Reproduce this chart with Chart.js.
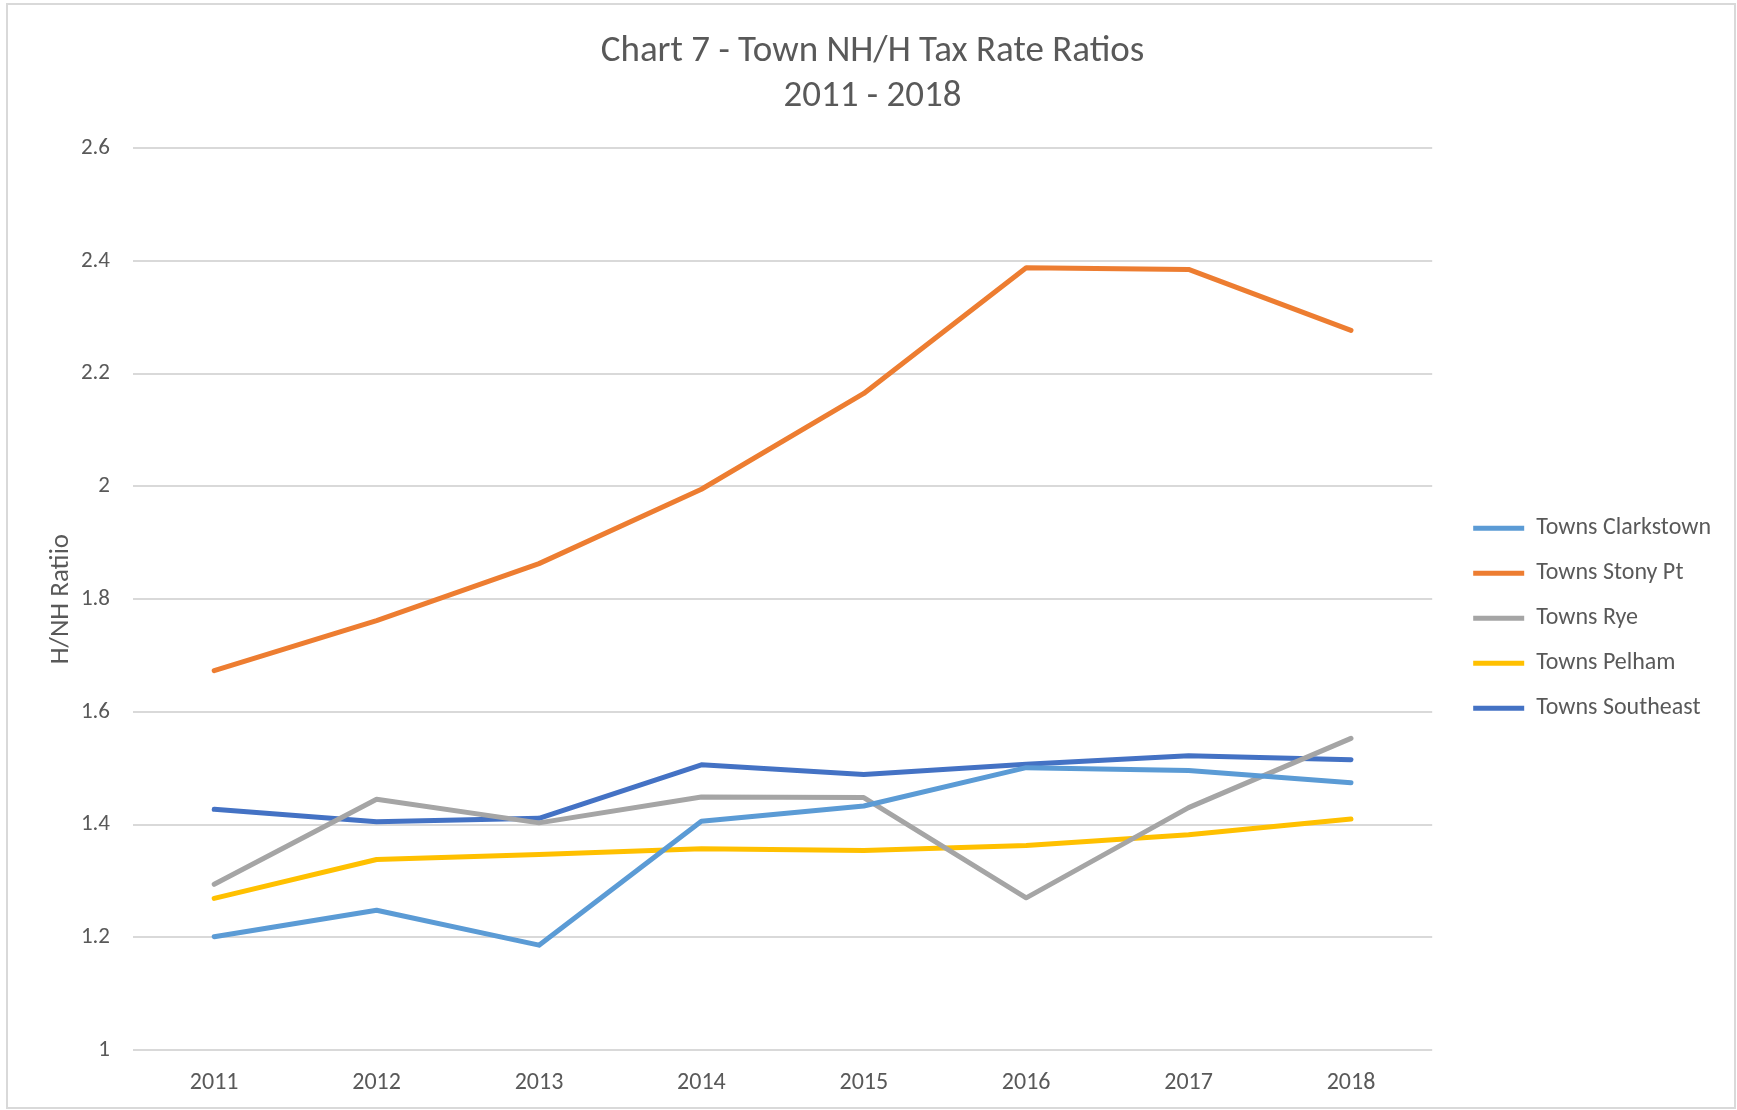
<!DOCTYPE html>
<html><head><meta charset="utf-8">
<script src="https://cdn.jsdelivr.net/npm/chart.js@4/dist/chart.umd.min.js"></script>
<style>html,body{margin:0;padding:0;background:#fff;overflow:hidden}#wrap{width:1737px;height:1110px;position:relative}</style>
</head><body><div id="wrap"><canvas id="c" width="1737" height="1110"></canvas></div>
<script>
const years = ['2011', '2012', '2013', '2014', '2015', '2016', '2017', '2018'];
const clarkstown = [1.201, 1.248, 1.186, 1.406, 1.433, 1.501, 1.496, 1.474];
const stonyPt    = [1.673, 1.762, 1.863, 1.995, 2.165, 2.388, 2.385, 2.277];
const rye        = [1.294, 1.445, 1.403, 1.449, 1.448, 1.270, 1.430, 1.553];
const pelham     = [1.269, 1.338, 1.347, 1.357, 1.354, 1.363, 1.382, 1.410];
const southeast  = [1.427, 1.405, 1.411, 1.506, 1.489, 1.507, 1.522, 1.515];
const seriesNames = ['Towns Clarkstown', 'Towns Stony Pt', 'Towns Rye', 'Towns Pelham', 'Towns Southeast'];
const seriesColors = ['#5B9BD5', '#ED7D31', '#A5A5A5', '#FFC000', '#4472C4'];
const titleLines = ['Chart 7 - Town NH/H Tax Rate Ratios', '2011 - 2018'];
const yAxisTitle = 'H/NH Ratiio';
const yMin = 1, yMax = 2.6, yStep = 0.2;

const seriesValues = [clarkstown, stonyPt, rye, pelham, southeast];
const FONT = "Carlito, Lato, 'Open Sans', sans-serif";
const TXT = '#595959';

const frame = {
  id: 'frame',
  beforeDraw(chart) {
    const ctx = chart.ctx;
    ctx.save();
    ctx.fillStyle = '#fff';
    ctx.fillRect(0, 0, chart.width, chart.height);
    ctx.strokeStyle = '#d9d9d9';
    ctx.lineWidth = 2;
    ctx.strokeRect(7, 4, chart.width - 9, chart.height - 6);
    ctx.restore();
  }
};

new Chart(document.getElementById('c'), {
  type: 'line',
  data: {
    labels: years,
    datasets: seriesNames.map((n, i) => ({
      label: n,
      data: seriesValues[i],
      borderColor: seriesColors[i],
      backgroundColor: seriesColors[i],
      borderWidth: 5,
      borderCapStyle: 'round',
      borderJoinStyle: 'round',
      pointRadius: 0,
      pointHoverRadius: 0,
      tension: 0,
      fill: false,
      yAxisID: 'y'
    }))
  },
  options: {
    responsive: false,
    animation: false,
    devicePixelRatio: 1,
    layout: { padding: { left: 24, right: 16, top: 0, bottom: 0 } },
    plugins: {
      title: {
        display: true,
        text: titleLines,
        color: TXT,
        font: { family: FONT, size: 37, weight: 'normal', lineHeight: 1.22 },
        padding: { top: 29, bottom: 29 }
      },
      legend: {
        position: 'right',
        align: 'center',
        fullSize: false,
        title: { display: true, text: ' ', font: { size: 1 }, padding: { top: 0, bottom: 37 } },
        labels: {
          usePointStyle: true,
          pointStyle: 'line',
          pointStyleWidth: 51,
          color: TXT,
          font: { family: FONT, size: 24 },
          padding: 21
        }
      },
      tooltip: { enabled: false }
    },
    scales: {
      x: {
        offset: true,
        grid: { display: false, drawTicks: false },
        border: { display: false },
        ticks: { color: TXT, font: { family: FONT, size: 24 }, padding: 19, maxRotation: 0 },
        afterFit(s) { s.height = 60; }
      },
      y: {
        min: yMin, max: yMax,
        grid: { color: '#d9d9d9', lineWidth: 2, drawTicks: false },
        border: { display: false },
        ticks: {
          stepSize: yStep,
          color: TXT,
          font: { family: FONT, size: 23 },
          padding: 23,
          callback: v => String(Math.round(v * 10) / 10)
        },
        title: {
          display: true,
          text: yAxisTitle,
          color: TXT,
          font: { family: FONT, size: 27 },
          padding: { top: 21, bottom: 0 }
        },
        afterFit(s) { s.width = 133 - 24; }
      },
      gap: {
        type: 'linear',
        position: 'right',
        display: true,
        grid: { display: false, drawTicks: false },
        border: { display: false },
        ticks: { display: false },
        afterFit(s) { s.width = 20; }
      }
    }
  },
  plugins: [frame]
});
</script>
</body></html>
